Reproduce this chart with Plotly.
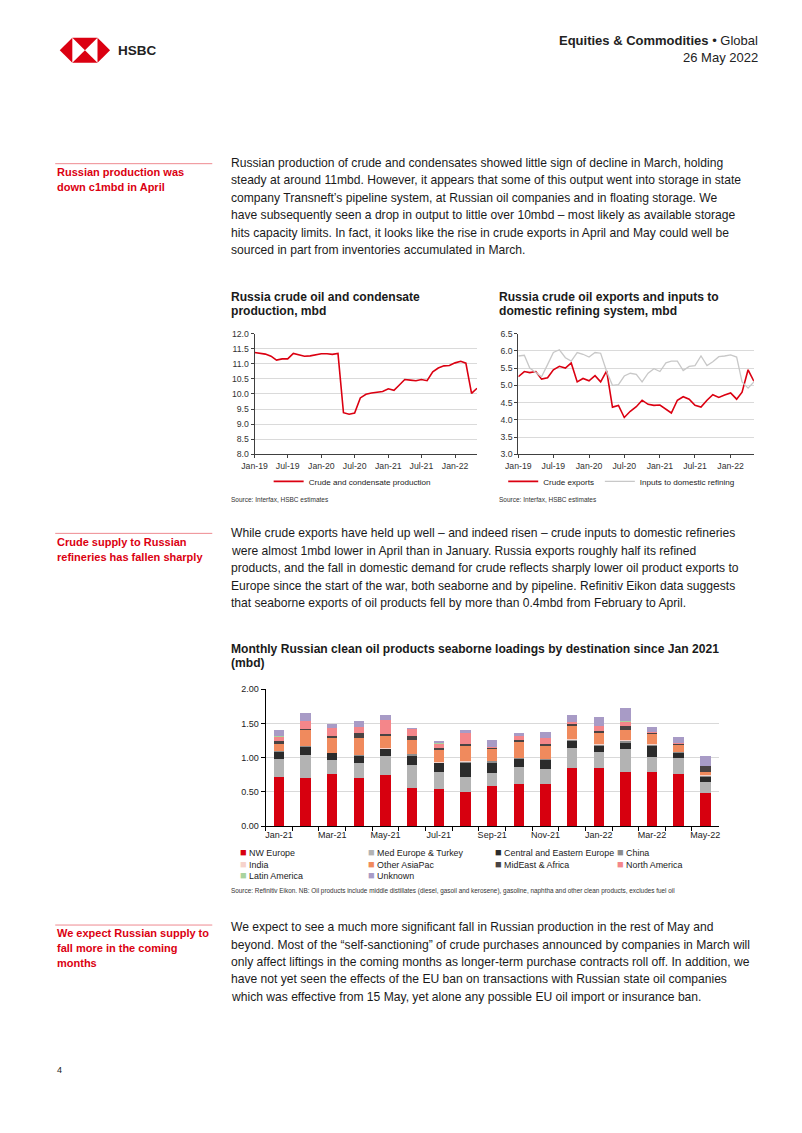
import plotly.graph_objects as go
import pandas as pd

W, H = 802, 1133
FONT = "Liberation Sans, Arial, sans-serif"
RED = "#DB0011"
TXT = "#1a1a1a"

# page-pixel -> paper mapping (calibrated to the rendered page)
SX, OX, SY, OY = 0.976, 23.0, 0.992, 12.2


def fx(x):
    return (x - OX) / SX / W


def fy(y):
    return 1 - (y - OY) / SY / H


# ---------------- data ----------------
line_months = pd.date_range("2019-01-01", "2022-05-01", freq="MS")
line_tick_dates = pd.to_datetime(["2019-01-01", "2019-07-01", "2020-01-01", "2020-07-01",
                                  "2021-01-01", "2021-07-01", "2022-01-01"])
line_tick_labels = ["Jan-19", "Jul-19", "Jan-20", "Jul-20", "Jan-21", "Jul-21", "Jan-22"]

crude_production = [11.37, 11.35, 11.32, 11.25, 11.12, 11.16, 11.16, 11.34, 11.30, 11.25, 11.26, 11.29,
                    11.33, 11.33, 11.31, 11.34, 9.38, 9.33, 9.37, 9.87, 9.99, 10.03, 10.05, 10.08,
                    10.17, 10.12, 10.29, 10.48, 10.46, 10.44, 10.48, 10.44, 10.73, 10.86, 10.93, 10.94,
                    11.03, 11.08, 11.02, 10.02, 10.19]

crude_exports = [5.25, 5.40, 5.37, 5.40, 5.18, 5.22, 5.45, 5.55, 5.50, 5.65, 5.10, 5.20,
                 5.13, 5.28, 5.10, 5.42, 4.37, 4.42, 4.07, 4.25, 4.38, 4.57, 4.45, 4.42,
                 4.43, 4.32, 4.20, 4.57, 4.67, 4.60, 4.42, 4.37, 4.57, 4.73, 4.65, 4.72,
                 4.78, 4.60, 4.80, 5.45, 5.12]

refining_inputs = [5.85, 5.87, 5.50, 5.38, 5.25, 5.60, 5.95, 6.03, 5.80, 5.70, 5.95, 5.90,
                   5.82, 5.95, 5.93, 5.40, 5.00, 5.02, 5.27, 5.35, 5.32, 5.10, 5.35, 5.48,
                   5.40, 5.65, 5.70, 5.70, 5.43, 5.55, 5.57, 5.85, 5.57, 5.68, 5.83, 5.85,
                   5.88, 5.82, 5.10, 4.92, 5.10]

bar_months = ["Jan-21", "Feb-21", "Mar-21", "Apr-21", "May-21", "Jun-21", "Jul-21", "Aug-21",
              "Sep-21", "Oct-21", "Nov-21", "Dec-21", "Jan-22", "Feb-22", "Mar-22", "Apr-22", "May-22"]
bar_tick_labels = ["Jan-21", "", "Mar-21", "", "May-21", "", "Jul-21", "", "Sep-21", "", "Nov-21", "",
                   "Jan-22", "", "Mar-22", "", "May-22"]

nw_europe = [0.72, 0.70, 0.76, 0.70, 0.75, 0.56, 0.54, 0.50, 0.58, 0.61, 0.62, 0.845, 0.845, 0.795, 0.79, 0.755, 0.49]
med_europe_turkey = [0.26, 0.345, 0.21, 0.22, 0.28, 0.34, 0.255, 0.22, 0.20, 0.26, 0.22, 0.295, 0.245, 0.325, 0.215, 0.235, 0.155]
central_eastern_europe = [0.11, 0.115, 0.10, 0.11, 0.10, 0.12, 0.125, 0.20, 0.15, 0.11, 0.125, 0.11, 0.085, 0.105, 0.17, 0.08, 0.075]
china = [0.005, 0.01, 0.005, 0.01, 0.005, 0.04, 0.01, 0.02, 0.02, 0.015, 0.015, 0.01, 0.015, 0.02, 0.02, 0.015, 0.015]
india = [0.005, 0.005, 0.0, 0.005, 0.005, 0.0, 0.005, 0.005, 0.005, 0.005, 0.0, 0.02, 0.01, 0.015, 0.01, 0.005, 0.01]
other_asiapac = [0.10, 0.235, 0.215, 0.245, 0.18, 0.205, 0.185, 0.235, 0.165, 0.225, 0.20, 0.18, 0.16, 0.15, 0.135, 0.09, 0.04]
mideast_africa = [0.05, 0.015, 0.03, 0.07, 0.03, 0.055, 0.02, 0.02, 0.03, 0.03, 0.02, 0.04, 0.035, 0.05, 0.03, 0.03, 0.095]
north_america = [0.05, 0.105, 0.11, 0.085, 0.195, 0.10, 0.06, 0.16, 0.01, 0.065, 0.09, 0.02, 0.075, 0.07, 0.01, 0.01, 0.005]
latin_america = [0.01, 0.0, 0.0, 0.0, 0.0, 0.0, 0.01, 0.0, 0.0, 0.0, 0.0, 0.0, 0.0, 0.01, 0.0, 0.0, 0.0]
unknown = [0.10, 0.13, 0.065, 0.085, 0.085, 0.01, 0.04, 0.04, 0.095, 0.04, 0.09, 0.10, 0.12, 0.185, 0.065, 0.08, 0.145]

bar_series = [
    ("NW Europe", nw_europe, "#D7000F"),
    ("Med Europe & Turkey", med_europe_turkey, "#B3B3B3"),
    ("Central and Eastern Europe", central_eastern_europe, "#2B2B2B"),
    ("China", china, "#8C8C8C"),
    ("India", india, "#F6D3CB"),
    ("Other AsiaPac", other_asiapac, "#F08A5D"),
    ("MidEast & Africa", mideast_africa, "#4A4343"),
    ("North America", north_america, "#F4868A"),
    ("Latin America", latin_america, "#A9D39E"),
    ("Unknown", unknown, "#A89BC6"),
]

# legend grid for the bar chart (left edge of square, row centre) in page pixels
legend_cols = [239, 366, 492, 613]
legend_rows = [852, 863.5, 875]

fig = go.Figure()

# ---------------- chart 1 ----------------
fig.add_trace(go.Scatter(x=line_months, y=crude_production, mode="lines",
                         line=dict(color=RED, width=1.6), name="Crude and condensate production",
                         xaxis="x", yaxis="y", legend="legend"))

# ---------------- chart 2 ----------------
fig.add_trace(go.Scatter(x=line_months, y=crude_exports, mode="lines",
                         line=dict(color=RED, width=1.6), name="Crude exports",
                         xaxis="x2", yaxis="y2", legend="legend2"))
fig.add_trace(go.Scatter(x=line_months, y=refining_inputs, mode="lines",
                         line=dict(color="#C8C8C8", width=1.3), name="Inputs to domestic refining",
                         xaxis="x2", yaxis="y2", legend="legend3"))

# ---------------- chart 3 ----------------
for name, vals, col in bar_series:
    fig.add_trace(go.Bar(x=bar_months, y=vals, name=name, marker=dict(color=col, line=dict(width=0)),
                         xaxis="x3", yaxis="y3", showlegend=False))

axis_font = dict(size=8.7, color="#333333", family=FONT)
bar_axis_font = dict(size=9, color="#222222", family=FONT)
leg_font = dict(size=8.1, color=TXT, family=FONT)

fig.update_layout(
    width=W, height=H, margin=dict(l=0, r=0, t=0, b=0),
    paper_bgcolor="white", plot_bgcolor="rgba(0,0,0,0)",
    font=dict(family=FONT, color=TXT),
    barmode="stack", bargap=0.61,
    xaxis=dict(domain=[fx(255), fx(476)], anchor="y", type="date",
               range=[line_months[0], line_months[-1]],
               tickvals=line_tick_dates, ticktext=line_tick_labels, tickfont=axis_font, tickangle=0,
               showline=True, linecolor="#404040", linewidth=1, ticks="outside", ticklen=3,
               tickcolor="#404040", showgrid=False, zeroline=False),
    yaxis=dict(domain=[fy(454), fy(333)], anchor="x", range=[8, 12], dtick=0.5, tickformat=".1f",
               tickfont=axis_font, showline=True, linecolor="#404040", linewidth=1,
               ticks="outside", ticklen=3, tickcolor="#404040",
               showgrid=True, gridcolor="#DADADA", gridwidth=1, zeroline=False),
    xaxis2=dict(domain=[fx(517), fx(751)], anchor="y2", type="date",
                range=[line_months[0], line_months[-1]],
                tickvals=line_tick_dates, ticktext=line_tick_labels, tickfont=axis_font, tickangle=0,
                showline=True, linecolor="#404040", linewidth=1, ticks="outside", ticklen=3,
                tickcolor="#404040", showgrid=False, zeroline=False),
    yaxis2=dict(domain=[fy(454), fy(333)], anchor="x2", range=[3, 6.5], dtick=0.5, tickformat=".1f",
                tickfont=axis_font, showline=True, linecolor="#404040", linewidth=1,
                ticks="outside", ticklen=3, tickcolor="#404040",
                showgrid=True, gridcolor="#DADADA", gridwidth=1, zeroline=False),
    xaxis3=dict(domain=[fx(266), fx(716)], anchor="y3", type="category",
                tickvals=bar_months, ticktext=bar_tick_labels, tickfont=bar_axis_font, tickangle=0,
                tickson="boundaries", ticks="outside", ticklen=4, tickcolor="#000000",
                showline=True, linecolor="#000000", linewidth=1, showgrid=False, zeroline=False),
    yaxis3=dict(domain=[fy(826), fy(689)], anchor="x3", range=[0, 2], dtick=0.5, tickformat=".2f",
                tickfont=bar_axis_font, showline=True, linecolor="#000000", linewidth=1,
                ticks="outside", ticklen=4, tickcolor="#000000",
                showgrid=True, gridcolor="#D9D9D9", gridwidth=1, zeroline=False),
    legend=dict(x=fx(269), y=fy(481), xanchor="left", yanchor="middle", orientation="h",
                bgcolor="rgba(0,0,0,0)", font=leg_font),
    legend2=dict(x=fx(502), y=fy(481), xanchor="left", yanchor="middle", orientation="h",
                 bgcolor="rgba(0,0,0,0)", font=leg_font),
    legend3=dict(x=fx(598), y=fy(481), xanchor="left", yanchor="middle", orientation="h",
                 bgcolor="rgba(0,0,0,0)", font=leg_font),
)

# ---------------- page text ----------------
ann = []


def text(x, y, s, size=12, color=TXT, bold=False, anchor="left"):
    ann.append(dict(x=fx(x), y=fy(y), xref="paper", yref="paper", showarrow=False,
                    text=("<b>%s</b>" % s) if bold else s, xanchor=anchor, yanchor="middle",
                    font=dict(size=size, color=color, family=FONT), align=anchor))


# header
text(117, 50, "HSBC", size=13.5, color="#222222", bold=True)
text(757, 40, "<b>Equities &amp; Commodities</b> \u2022 Global", size=13, color="#222222", anchor="right")
text(757, 57, "26 May 2022", size=13, color="#222222", anchor="right")

para1 = ["Russian production of crude and condensates showed little sign of decline in March, holding",
         "steady at around 11mbd. However, it appears that some of this output went into storage in state",
         "company Transneft\u2019s pipeline system, at Russian oil companies and in floating storage. We",
         "have subsequently seen a drop in output to little over 10mbd \u2013 most likely as available storage",
         "hits capacity limits. In fact, it looks like the rise in crude exports in April and May could well be",
         "sourced in part from inventories accumulated in March."]
para2 = ["While crude exports have held up well \u2013 and indeed risen \u2013 crude inputs to domestic refineries",
         "were almost 1mbd lower in April than in January. Russia exports roughly half its refined",
         "products, and the fall in domestic demand for crude reflects sharply lower oil product exports to",
         "Europe since the start of the war, both seaborne and by pipeline. Refinitiv Eikon data suggests",
         "that seaborne exports of oil products fell by more than 0.4mbd from February to April."]
para3 = ["We expect to see a much more significant fall in Russian production in the rest of May and",
         "beyond. Most of the \u201cself-sanctioning\u201d of crude purchases announced by companies in March will",
         "only affect liftings in the coming months as longer-term purchase contracts roll off. In addition, we",
         "have not yet seen the effects of the EU ban on transactions with Russian state oil companies",
         "which was effective from 15 May, yet alone any possible EU oil import or insurance ban."]

for start, lines in ((162, para1), (533, para2), (927, para3)):
    for k, s in enumerate(lines):
        text(230, start + k * 17.5, s, size=12.1)

side = [(171, ["Russian production was", "down c1mbd in April"]),
        (542, ["Crude supply to Russian", "refineries has fallen sharply"]),
        (933, ["We expect Russian supply to", "fall more in the coming", "months"])]
for start, lines in side:
    for k, s in enumerate(lines):
        text(57, start + k * 15, s, size=11, color=RED, bold=True)

# chart titles
text(230, 296, "Russia crude oil and condensate", size=12.1, bold=True)
text(230, 310, "production, mbd", size=12.1, bold=True)
text(496, 296, "Russia crude oil exports and inputs to", size=12.1, bold=True)
text(496, 310, "domestic refining system, mbd", size=12.1, bold=True)
text(230, 649, "Monthly Russian clean oil products seaborne loadings by destination since Jan 2021", size=12.1, bold=True)
text(230, 663, "(mbd)", size=12.1, bold=True)

# bar-chart legend (square swatch + label per series)
for i, (name, vals, col) in enumerate(bar_series):
    row, colm = divmod(i, 4)
    ann.append(dict(x=fx(legend_cols[colm]), y=fy(legend_rows[row]), xref="paper", yref="paper",
                    showarrow=False, xanchor="left", yanchor="middle",
                    text="<span style='color:%s;font-size:11px'>\u25a0</span> %s" % (col, name.replace("&", "&amp;")),
                    font=dict(size=8.9, color=TXT, family=FONT)))

# sources
text(230, 499, "Source: Interfax, HSBC estimates", size=6.5, color="#333333")
text(496, 499, "Source: Interfax, HSBC estimates", size=6.5, color="#333333")
text(230, 891, "Source: Refinitiv Eikon. NB: Oil products include middle distillates (diesel, gasoil and kerosene), "
               "gasoline, naphtha and other clean products, excludes fuel oil", size=6.4, color="#333333")

# page number
text(57, 1070, "4", size=9, color="#222222")

fig.update_layout(annotations=ann)

# ---------------- decorative shapes ----------------
shapes = []
for yy in (163, 533, 925):
    shapes.append(dict(type="line", xref="paper", yref="paper", x0=fx(57), x1=fx(213), y0=fy(yy), y1=fy(yy),
                       line=dict(color="#EE8A90", width=1)))


def poly(pts):
    d = "M " + " L ".join("%f,%f" % (fx(a), fy(b)) for a, b in pts) + " Z"
    return dict(type="path", xref="paper", yref="paper", path=d, fillcolor=RED, line=dict(width=0))


L, SL, SR, R, T, B, CY = 61.5, 74, 99, 111.5, 37, 62, 49.5
CX = (SL + SR) / 2
shapes += [poly([(L, CY), (SL, T), (SL, B)]), poly([(R, CY), (SR, T), (SR, B)]),
           poly([(SL, T), (SR, T), (CX, CY)]), poly([(SL, B), (SR, B), (CX, CY)])]
fig.update_layout(shapes=shapes)

fig.write_html("out.html")
